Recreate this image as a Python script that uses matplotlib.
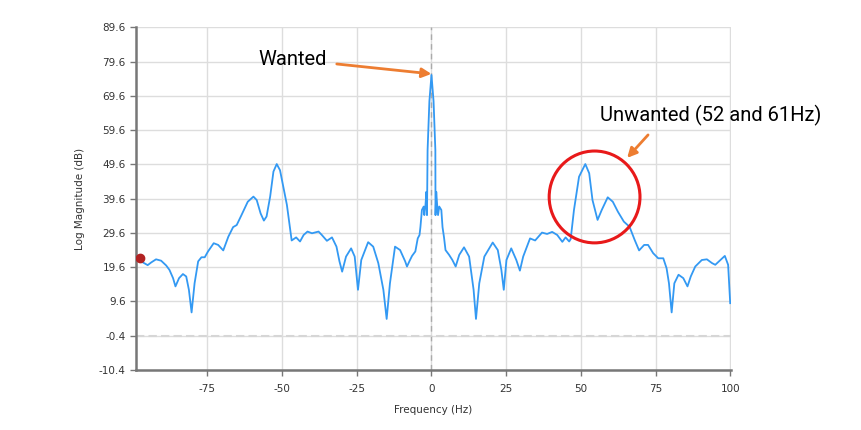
import matplotlib.pyplot as plt
from matplotlib.patches import Ellipse

plt.rcParams["axes.unicode_minus"] = False

# spectrum (Hz, dB)
freq = [-98.9, -96.6, -95.0, -93.8, -92.2, -90.5, -88.8, -87.7, -86.5, -85.7,
        -84.5, -83.2, -82.1, -81.2, -80.3, -79.3, -78.1, -77.0, -75.9, -74.8,
        -72.9, -71.4, -69.7, -68.0, -66.4, -65.2, -63.6, -61.5, -59.6, -58.5,
        -57.2, -56.1, -55.2, -54.0, -52.9, -51.8, -50.7, -49.6, -48.4, -47.3,
        -46.8, -45.3, -44.0, -42.8, -41.5, -40.0, -37.8, -36.7, -35.0, -33.3,
        -31.8, -30.8, -29.9, -28.6, -26.9, -25.7, -24.6, -23.5, -21.2, -19.5,
        -17.8, -16.1, -15.0, -13.9, -12.2, -10.5, -8.8, -8.2, -7.3, -6.5,
        -5.4, -4.6, -4.0, -3.7, -3.2, -2.6, -2.4, -2.0, -1.7, -1.5,
        -1.3, -0.7, 0.0, 0.7, 1.3, 1.35, 1.6, 1.9, 2.2, 2.6,
        3.3, 3.7, 4.2, 4.7, 5.9, 7.0, 8.1, 9.3, 10.9, 12.6,
        14.1, 14.9, 16.0, 17.7, 20.5, 22.2, 23.4, 24.2, 25.1, 26.7,
        28.4, 29.6, 30.7, 33.0, 34.7, 37.0, 38.7, 40.4, 42.1, 43.8,
        44.9, 46.1, 46.6, 47.7, 49.4, 51.5, 52.8, 53.9, 55.6, 57.0,
        59.0, 60.7, 62.4, 64.4, 66.3, 68.0, 69.5, 71.2, 72.5, 74.2,
        75.9, 77.6, 78.7, 79.5, 80.4, 81.3, 82.7, 84.3, 85.7, 86.8,
        88.3, 90.5, 92.2, 93.9, 95.0, 96.7, 98.2, 99.3, 100.0]
mag = [22.5, 21.0, 20.2, 21.0, 21.9, 21.5, 20.1, 18.8, 16.4, 14.0,
       16.4, 17.6, 16.9, 13.0, 6.4, 14.9, 21.3, 22.5, 22.5, 24.2,
       26.6, 26.1, 24.5, 28.5, 31.3, 31.9, 34.8, 38.7, 40.2, 39.2,
       35.3, 33.2, 34.4, 40.2, 47.5, 49.7, 47.9, 43.1, 37.8, 30.5,
       27.4, 28.3, 27.1, 29.0, 30.0, 29.5, 30.0, 29.0, 27.3, 28.3,
       25.6, 21.3, 18.3, 22.7, 25.1, 22.7, 13.0, 21.7, 26.9, 25.6,
       20.8, 13.0, 4.5, 14.9, 25.6, 24.6, 21.3, 19.8, 21.5, 22.9,
       24.2, 28.0, 29.0, 31.3, 36.3, 37.3, 34.8, 37.8, 41.6, 34.8,
       53.8, 68.0, 75.7, 68.0, 53.8, 34.8, 41.6, 37.8, 34.8, 37.3,
       36.3, 31.3, 28.3, 24.6, 23.2, 21.7, 19.8, 23.2, 25.4, 22.7,
       13.0, 4.5, 14.9, 22.7, 26.8, 24.6, 18.8, 13.0, 21.7, 25.1,
       21.7, 18.6, 22.7, 28.0, 27.4, 29.7, 29.3, 29.9, 29.0, 27.0,
       28.3, 27.1, 27.8, 36.3, 46.0, 49.7, 47.0, 39.2, 33.4, 36.3,
       40.0, 38.7, 35.8, 32.9, 31.4, 27.6, 24.5, 26.1, 26.1, 23.7,
       22.2, 22.2, 19.3, 14.9, 6.4, 14.9, 17.4, 16.4, 14.0, 16.9,
       19.8, 21.7, 21.9, 20.8, 20.3, 21.7, 22.9, 20.3, 9.1]

y_ticks = [-10.4, -0.4, 9.6, 19.6, 29.6, 39.6, 49.6, 59.6, 69.6, 79.6, 89.6]
x_ticks = [-75, -50, -25, 0, 25, 50, 75, 100]
marker_pt = (-97.5, 22.3)

blue = "#3399f3"
orange = "#ed7d31"

fig = plt.figure(figsize=(8.62, 4.30), dpi=100)
ax = fig.add_axes([0.1578, 0.1395, 0.690, 0.797])

ax.plot(freq, mag, color=blue, lw=1.3, zorder=3)
ax.plot(*marker_pt, "o", color="#b22222", ms=6, zorder=4)

ax.axvline(0, color="#aaaaaa", lw=1, ls=(0, (4, 3)), zorder=2)
ax.axhline(-0.4, color="#d6d6d6", lw=1.5, ls=(0, (4, 2)), zorder=2)

ax.set_xlim(-98.9, 100.2)
ax.set_ylim(-10.4, 89.6)
ax.set_xticks(x_ticks)
ax.set_yticks(y_ticks)
ax.set_yticklabels([f"{v:.1f}" for v in y_ticks])
ax.grid(True, color="#dddddd", lw=1)
ax.set_axisbelow(True)

for s in ["top", "right"]:
    ax.spines[s].set_visible(False)
for s in ["left", "bottom"]:
    ax.spines[s].set_color("#777777")
    ax.spines[s].set_linewidth(1.8)
ax.tick_params(colors="#777777", labelcolor="#333333", labelsize=7.5,
               length=4, width=1)
ax.tick_params(axis="x", pad=6)

ax.set_xlabel("Frequency (Hz)", fontsize=7.5, color="#333333", labelpad=8)
ax.set_ylabel("Log Magnitude (dB)", fontsize=7.5, color="#333333", labelpad=10)

# annotations
ax.annotate("", xy=(0, 76.0), xytext=(-31.7, 78.9),
            arrowprops=dict(arrowstyle="-|>", color=orange, lw=2,
                            mutation_scale=14, shrinkA=0, shrinkB=0))
ax.text(-46.4, 80.1, "Wanted", fontsize=14.5, family="Roboto",
        ha="center", va="center")

ax.add_patch(Ellipse((54.6, 40.1), 30.4, 26.8, fill=False,
                     edgecolor="#e8191a", lw=2.2, zorder=5))
ax.annotate("", xy=(65.5, 51.5), xytext=(72.5, 58.2),
            arrowprops=dict(arrowstyle="-|>", color=orange, lw=2,
                            mutation_scale=14, shrinkA=0, shrinkB=0))
ax.text(93.5, 64.0, "Unwanted (52 and 61Hz)", fontsize=14.5, family="Roboto",
        ha="center", va="center", clip_on=False)

fig.savefig("out.png", dpi=100)
